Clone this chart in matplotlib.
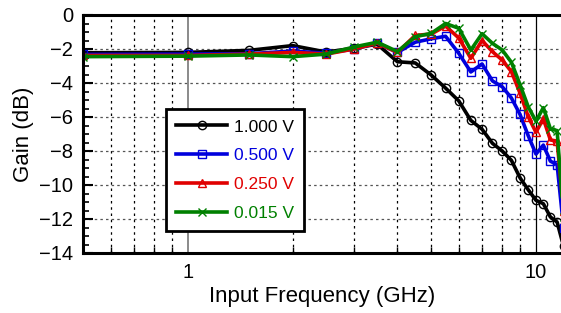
import matplotlib
matplotlib.use("Agg")
import matplotlib.pyplot as plt
from matplotlib.ticker import MultipleLocator, FixedLocator, NullFormatter

plt.rcParams["font.family"] = ["Liberation Sans", "DejaVu Sans"]

freq = [0.5, 1.0, 1.5, 2.0, 2.5, 3.0, 3.5, 4.0, 4.5, 5.0, 5.5, 6.0,
        6.5, 7.0, 7.5, 8.0, 8.5, 9.0, 9.5, 10.0, 10.5, 11.0, 11.5, 12.0]

gain_1000 = [-2.22, -2.2, -2.08, -1.8, -2.18, -1.95, -1.72, -2.75, -2.82, -3.53, -4.3, -5.05,
             -6.2, -6.72, -7.55, -8.0, -8.55, -9.58, -10.28, -10.9, -11.1, -11.88, -12.18, -13.6]
gain_0500 = [-2.32, -2.3, -2.28, -2.12, -2.25, -2.0, -1.65, -2.2, -1.6, -1.4, -1.25, -2.25,
             -3.35, -2.88, -3.88, -4.22, -4.88, -5.85, -7.1, -8.18, -7.65, -8.6, -8.8, -12.5]
gain_0250 = [-2.38, -2.38, -2.3, -2.2, -2.3, -2.0, -1.65, -2.2, -1.2, -1.12, -0.65, -1.35,
             -2.55, -1.5, -2.16, -2.65, -3.33, -4.6, -5.98, -6.9, -6.1, -7.35, -7.42, -11.5]
gain_0015 = [-2.45, -2.42, -2.35, -2.45, -2.3, -1.88, -1.6, -2.15, -1.28, -1.08, -0.5, -0.78,
             -2.06, -1.1, -1.67, -2.06, -2.78, -4.1, -5.4, -6.25, -5.45, -6.7, -6.8, -11.9]

series = [
    ("1.000 V", gain_1000, "black", "o"),
    ("0.500 V", gain_0500, "#0000dd", "s"),
    ("0.250 V", gain_0250, "#e00000", "^"),
    ("0.015 V", gain_0015, "#008000", "x"),
]

fig = plt.figure(figsize=(5.61, 3.13), dpi=100)
ax = fig.add_axes([83 / 561, 60 / 313, 478 / 561, 238 / 313])

for label, vals, color, mk in series:
    ax.plot(freq, vals, color=color, linewidth=2.6, marker=mk, markersize=6,
            markerfacecolor="none", markeredgewidth=1.0, label=label)

ax.set_xscale("log")
ax.set_xlim(0.5, 11.8)
ax.set_ylim(-14, 0)

ax.xaxis.set_major_locator(FixedLocator([1, 10]))
ax.xaxis.set_minor_locator(FixedLocator([0.6, 0.7, 0.8, 0.9, 2, 3, 4, 5, 6, 7, 8, 9]))
ax.xaxis.set_minor_formatter(NullFormatter())
ax.set_xticklabels(["1", "10"])
ax.yaxis.set_major_locator(MultipleLocator(2))
ax.yaxis.set_minor_locator(MultipleLocator(0.5))

# grid: dotted lines, solid markers at the decades
for x in [0.6, 0.7, 0.8, 0.9, 2, 3, 4, 5, 6, 7, 8, 9]:
    ax.axvline(x, color="black", linestyle=(0, (2, 3)), linewidth=0.9, zorder=0)
for y in [-12, -10, -8, -6, -4, -2]:
    ax.axhline(y, color="#555555", linestyle=(0, (2, 2.5)), linewidth=0.9, zorder=0)
ax.axvline(1, color="#777777", linewidth=1.2, zorder=0)
ax.axvline(10, color="black", linewidth=0.9, zorder=0)

ax.tick_params(axis="both", which="both", direction="in", labelsize=14.5)
ax.tick_params(axis="y", which="major", length=7, width=1.5, pad=7)
ax.tick_params(axis="y", which="minor", length=4, width=1.2)
ax.tick_params(axis="x", which="major", length=0, pad=7)
ax.tick_params(axis="x", which="minor", length=4, width=1)

for s in ["left", "bottom", "top"]:
    ax.spines[s].set_linewidth(2.2)
ax.spines["right"].set_visible(False)

ax.set_xlabel("Input Frequency (GHz)", fontsize=16, labelpad=3)
ax.set_ylabel("Gain (dB)", fontsize=16, labelpad=4)

leg = ax.legend(loc="upper left", bbox_to_anchor=(83 / 478, 144 / 238), fontsize=12.5,
                numpoints=1, handlelength=2.9, handletextpad=0.4, labelspacing=0.78,
                fancybox=False, framealpha=1, edgecolor="black", borderpad=0.6,
                borderaxespad=0)
leg.get_frame().set_linewidth(2)
for txt, (_, _, color, _) in zip(leg.get_texts(), series):
    txt.set_color(color)

plt.savefig("out.png", dpi=100)
